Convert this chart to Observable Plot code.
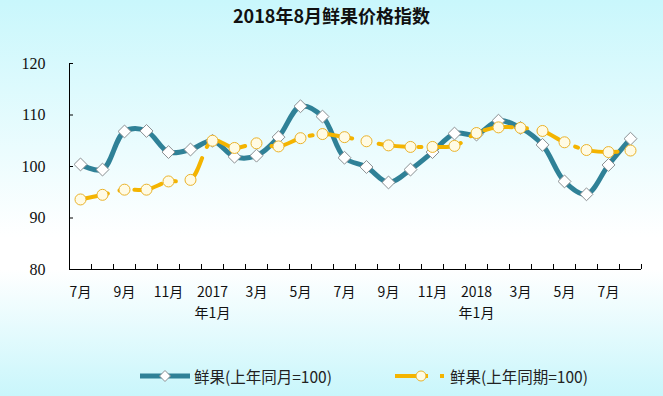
<!DOCTYPE html>
<html><head><meta charset="utf-8">
<script src="https://cdn.jsdelivr.net/npm/d3@7"></script>
<script src="https://cdn.jsdelivr.net/npm/@observablehq/plot@0.6"></script>
<style>
html,body{margin:0;padding:0;}
body{width:663px;height:396px;overflow:hidden;position:relative;
 background:linear-gradient(to bottom,#c9f7fc 0%,#ffffff 60%,#ffffff 68%,#c9f6fb 100%);
 font-family:"Noto Sans CJK SC",sans-serif;}
#title{height:36px;line-height:30px;text-align:center;font-weight:bold;font-size:18px;color:#111;font-family:"Noto Sans CJK SC",sans-serif;}
#chart svg{background:transparent;display:block;}
#legend{position:absolute;left:0;top:362px;width:663px;height:28px;}
.lg{position:absolute;top:0;height:28px;font-size:15.5px;line-height:28px;color:#222;white-space:nowrap;}
</style></head>
<body>
<div id="title">2018年8月鲜果价格指数</div>
<div id="chart"></div>
<div id="legend"></div>
<script>
const months = ["2016-07","2016-08","2016-09","2016-10","2016-11","2016-12","2017-01","2017-02","2017-03","2017-04","2017-05","2017-06","2017-07","2017-08","2017-09","2017-10","2017-11","2017-12","2018-01","2018-02","2018-03","2018-04","2018-05","2018-06","2018-07","2018-08"];
const sameMonth = [100.4, 99.4, 106.8, 106.9, 102.8, 103.3, 105.0, 101.9, 102.1, 105.7, 111.7, 109.7, 101.7, 99.9, 96.9, 99.4, 102.8, 106.4, 106.2, 108.9, 107.5, 104.2, 97.1, 94.6, 100.3, 105.4];
const samePeriod = [93.6, 94.5, 95.5, 95.5, 97.1, 97.4, 105.0, 103.6, 104.5, 103.9, 105.5, 106.3, 105.7, 104.9, 104.1, 103.8, 103.8, 104.0, 106.5, 107.6, 107.5, 106.9, 104.7, 103.2, 102.8, 103.1];
const tickLabels = ["7月","9月","11月","2017\n年1月","3月","5月","7月","9月","11月","2018\n年1月","3月","5月","7月"];
const yTicks = [80, 90, 100, 110, 120];
const seriesNames = ["鲜果(上年同月=100)", "鲜果(上年同期=100)"];

const teal = "#2f8197", gold = "#f4b400";
const dataA = months.map((m, i) => ({i, m, v: sameMonth[i]}));
const dataB = months.map((m, i) => ({i, m, v: samePeriod[i]}));
const labelIdx = tickLabels.map((_, k) => k * 2);
const bounds = d3.range(months.length + 1).map(i => i - 0.5);

const chart = Plot.plot({
  width: 663, height: 289,
  marginTop: 27, marginBottom: 56, marginLeft: 69, marginRight: 22,
  style: {background: "transparent", color: "#111"},
  x: {type: "linear", domain: [-0.5, months.length - 0.5]},
  y: {domain: [80, 120]},
  marks: [
    Plot.axisY({ticks: yTicks, tickSize: 0, tickPadding: 24, fontSize: 16, fontFamily: "Liberation Serif", label: null}),
    Plot.axisY({ticks: yTicks, tickSize: 4, dx: 4, text: null, label: null, stroke: "#000"}),
    Plot.axisX({ticks: bounds, tickSize: 5, dy: -5, text: null, label: null, stroke: "#000"}),
    Plot.axisX({ticks: labelIdx, tickSize: 0, tickPadding: 13, fontSize: 14, lineHeight: 1.5,
      tickFormat: i => tickLabels[i / 2], label: null, fontFamily: "Noto Sans CJK SC"}),
    Plot.ruleX([-0.5], {stroke: "#000"}),
    Plot.ruleY([80], {stroke: "#000"}),
    Plot.line(dataA, {x: "i", y: "v", stroke: teal, strokeWidth: 5, curve: "catmull-rom"}),
    Plot.dot(dataA, {x: "i", y: "v", symbol: "diamond2", r: 5.8, fill: "#fff", stroke: "#8a8f92", strokeWidth: 1}),
    Plot.line(dataB, {x: "i", y: "v", stroke: gold, strokeWidth: 4, curve: "catmull-rom", strokeDasharray: "28,12,3,12"}),
    Plot.dot(dataB, {x: "i", y: "v", r: 5.5, fill: "#fffbe4", stroke: "#eab22a", strokeWidth: 1})
  ]
});
document.getElementById("chart").appendChild(chart);

const lg = document.getElementById("legend");
lg.innerHTML = `
<svg style="position:absolute;left:0;top:0" width="663" height="28">
  <line x1="140" y1="14" x2="190" y2="14" stroke="${teal}" stroke-width="5"/>
  <path d="M165,8.5 L170.5,14 L165,19.5 L159.5,14 Z" fill="#fff" stroke="#8a8f92"/>
  <line x1="395" y1="14" x2="428" y2="14" stroke="${gold}" stroke-width="4"/>
  <circle cx="421" cy="14" r="5" fill="#fffbe4" stroke="#eab22a"/>
  <rect x="440" y="12" width="4" height="4" fill="${gold}"/>
</svg>
<div class="lg" style="left:194px">${seriesNames[0]}</div>
<div class="lg" style="left:450px">${seriesNames[1]}</div>`;
</script>
</body></html>
